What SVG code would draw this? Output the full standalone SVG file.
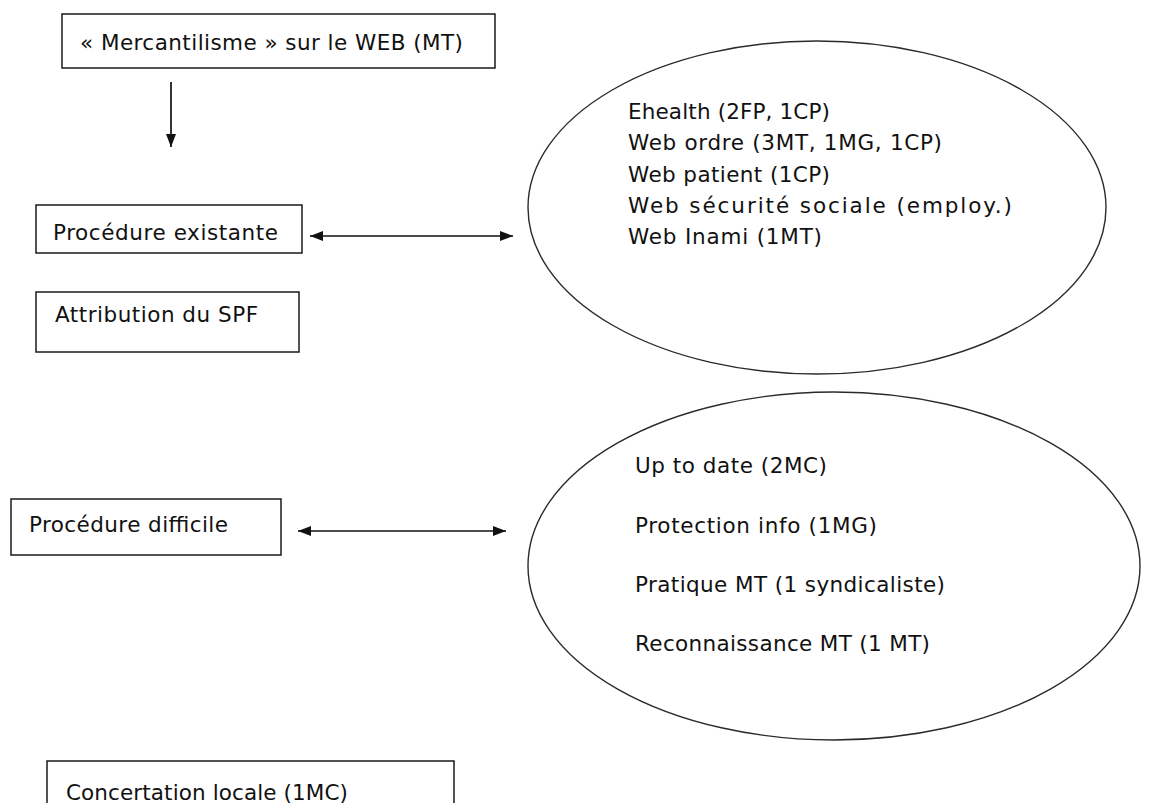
<svg xmlns="http://www.w3.org/2000/svg" width="1151" height="803" viewBox="0 0 1151 803">
  <style>
    .box { fill: #ffffff; stroke: #1a1a1a; stroke-width: 1.5; }
    .oval { fill: none; stroke: #2a2a2a; stroke-width: 1.4; }
    .lbl { font-family: "DejaVu Sans", "Liberation Sans", sans-serif; font-size: 21.5px; fill: #111111; }
    .link { fill: none; stroke: #111111; stroke-width: 1.7; }
  </style>
  <defs>
    <marker id="head" markerUnits="userSpaceOnUse" markerWidth="14" markerHeight="12" refX="13" refY="6" orient="auto-start-reverse">
      <path d="M0,1 L13,6 L0,11 z" fill="#111111"/>
    </marker>
  </defs>
  <rect width="1151" height="803" fill="#ffffff"/>

  <g id="mercantilisme">
    <rect class="box" x="62" y="14" width="433" height="54"/>
    <text class="lbl" x="80" y="50" textLength="383" lengthAdjust="spacing">« Mercantilisme » sur le WEB (MT)</text>
  </g>

  <g id="procedure-existante">
    <rect class="box" x="36" y="205" width="266" height="48"/>
    <text class="lbl" x="53" y="240" textLength="225" lengthAdjust="spacing">Procédure existante</text>
  </g>

  <g id="attribution-spf">
    <rect class="box" x="36" y="292" width="263" height="60"/>
    <text class="lbl" x="55" y="322" textLength="203" lengthAdjust="spacing">Attribution du SPF</text>
  </g>

  <g id="sites-web">
    <ellipse class="oval" cx="817" cy="207.5" rx="289" ry="166.5"/>
    <text class="lbl" x="628" y="119" textLength="202" lengthAdjust="spacing">Ehealth (2FP, 1CP)</text>
    <text class="lbl" x="628" y="150" textLength="314" lengthAdjust="spacing">Web ordre (3MT, 1MG, 1CP)</text>
    <text class="lbl" x="628" y="182" textLength="202" lengthAdjust="spacing">Web patient (1CP)</text>
    <text class="lbl" x="628" y="213" textLength="384" lengthAdjust="spacing">Web sécurité sociale (employ.)</text>
    <text class="lbl" x="628" y="244" textLength="194" lengthAdjust="spacing">Web Inami (1MT)</text>
  </g>

  <g id="procedure-difficile">
    <rect class="box" x="11" y="499" width="270" height="56"/>
    <text class="lbl" x="29" y="532" textLength="199" lengthAdjust="spacing">Procédure difficile</text>
  </g>

  <g id="difficultes">
    <ellipse class="oval" cx="834" cy="566" rx="306" ry="174"/>
    <text class="lbl" x="635" y="473" textLength="192" lengthAdjust="spacing">Up to date (2MC)</text>
    <text class="lbl" x="635" y="533" textLength="242" lengthAdjust="spacing">Protection info (1MG)</text>
    <text class="lbl" x="635" y="592" textLength="310" lengthAdjust="spacing">Pratique MT (1 syndicaliste)</text>
    <text class="lbl" x="635" y="651" textLength="295" lengthAdjust="spacing">Reconnaissance MT (1 MT)</text>
  </g>

  <g id="concertation-locale">
    <rect class="box" x="47" y="761" width="407" height="60"/>
    <text class="lbl" x="66" y="800" textLength="282" lengthAdjust="spacing">Concertation locale (1MC)</text>
  </g>

  <g id="connectors">
    <line class="link" x1="171" y1="82" x2="171" y2="147" marker-end="url(#head)"/>
    <line class="link" x1="310" y1="236" x2="513" y2="236" marker-start="url(#head)" marker-end="url(#head)"/>
    <line class="link" x1="298" y1="531" x2="506" y2="531" marker-start="url(#head)" marker-end="url(#head)"/>
  </g>
</svg>
